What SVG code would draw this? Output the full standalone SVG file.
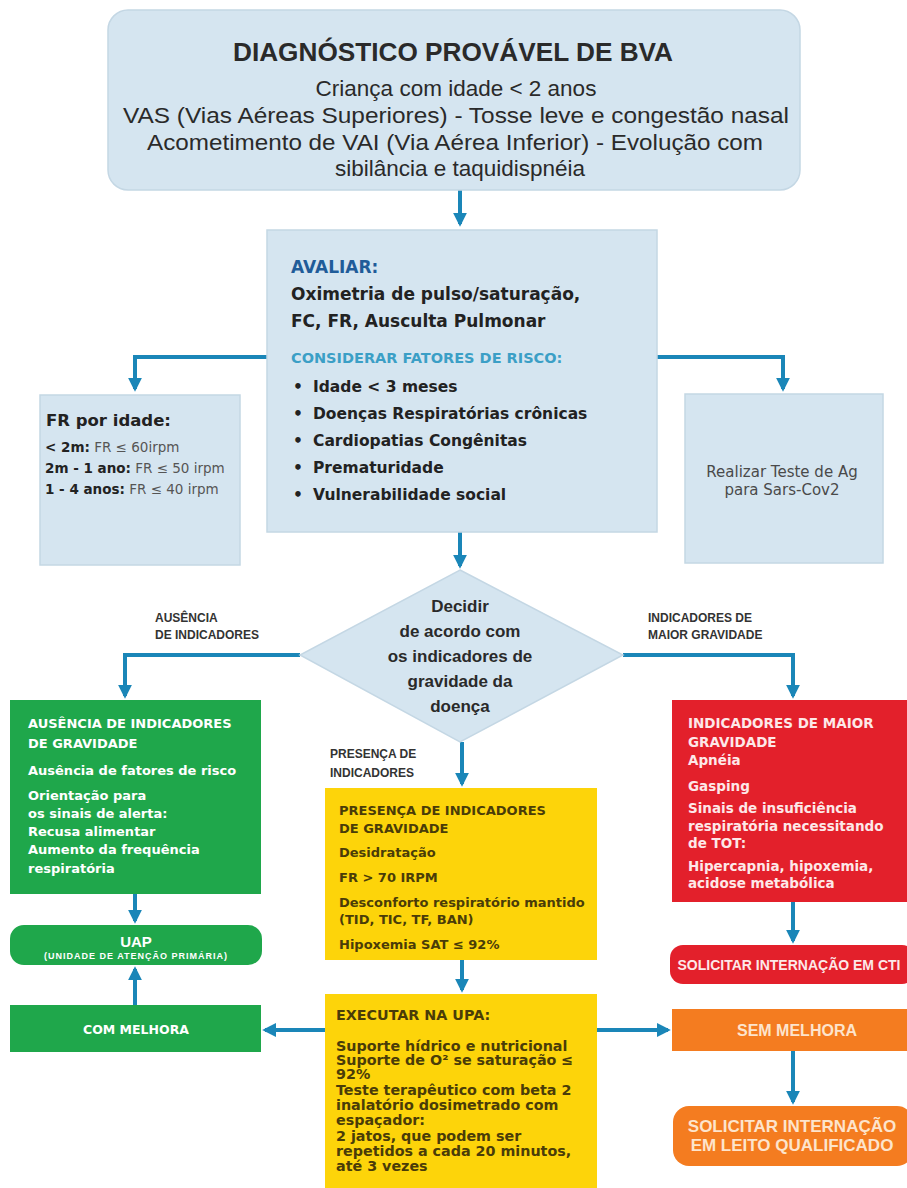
<svg xmlns="http://www.w3.org/2000/svg" width="907" height="1188" viewBox="0 0 907 1188">
<style>
.lb{fill:#d5e5f0;stroke:#c4d7e4;stroke-width:1.5}
.t{font-family:"Liberation Sans",Arial,sans-serif;fill:#2a2a2a}
.d{font-family:"DejaVu Sans",Verdana,sans-serif;fill:#222}
.b{font-weight:bold}
.w{fill:#fff;font-family:"DejaVu Sans",Verdana,sans-serif;font-weight:bold}
.wa{fill:#fff;font-family:"Liberation Sans",Arial,sans-serif;font-weight:bold}
.pk{fill:#fde8e8}
.or{fill:#fde4cc}
.y{fill:#4a3c08;font-family:"DejaVu Sans",Verdana,sans-serif;font-weight:bold}
.c{stroke:#1a86b8;stroke-width:4;fill:none}
.lab{font-family:"Liberation Sans",Arial,sans-serif;font-weight:bold;font-size:12px;fill:#333}
</style>
<defs>
<marker id="ah" viewBox="0 0 10 10" refX="8" refY="5" markerWidth="3.5" markerHeight="3.5" orient="auto" markerUnits="strokeWidth">
<path d="M0,0 L10,5 L0,10 z" fill="#1a86b8"/>
</marker>
</defs>
<rect width="907" height="1188" fill="#fff"/>

<g id="connectors">
<path class="c" d="M460,190 V224" marker-end="url(#ah)"/>
<path class="c" d="M267,357 H135 V389" marker-end="url(#ah)"/>
<path class="c" d="M657,357 H783 V389" marker-end="url(#ah)"/>
<path class="c" d="M460,532 V566" marker-end="url(#ah)"/>
<path class="c" d="M300,655 H125 V696" marker-end="url(#ah)"/>
<path class="c" d="M623,655 H793 V696" marker-end="url(#ah)"/>
<path class="c" d="M462,742 V784" marker-end="url(#ah)"/>
<path class="c" d="M135,894 V921" marker-end="url(#ah)"/>
<path class="c" d="M135,1005 V969" marker-end="url(#ah)"/>
<path class="c" d="M793,902 V941" marker-end="url(#ah)"/>
<path class="c" d="M462,960 V990" marker-end="url(#ah)"/>
<path class="c" d="M325,1030 H265" marker-end="url(#ah)"/>
<path class="c" d="M597,1030 H668" marker-end="url(#ah)"/>
<path class="c" d="M793,1050 V1102" marker-end="url(#ah)"/>
</g>

<g id="diagnostico">
<rect class="lb" x="108" y="10" width="692" height="180" rx="20"/>
<text class="t b" x="453" y="61" text-anchor="middle" font-size="25" textLength="440" lengthAdjust="spacingAndGlyphs">DIAGNÓSTICO PROVÁVEL DE BVA</text>
<text class="t" x="456" y="96" text-anchor="middle" font-size="22.5">Criança com idade &lt; 2 anos</text>
<text class="t" x="456" y="123" text-anchor="middle" font-size="22.5" textLength="666" lengthAdjust="spacingAndGlyphs">VAS (Vias Aéreas Superiores) - Tosse leve e congestão nasal</text>
<text class="t" x="455" y="150" text-anchor="middle" font-size="22.5" textLength="616" lengthAdjust="spacingAndGlyphs">Acometimento de VAI (Via Aérea Inferior) - Evolução com</text>
<text class="t" x="460" y="176" text-anchor="middle" font-size="22.5">sibilância e taquidispnéia</text>
</g>

<g id="avaliar">
<rect class="lb" x="267" y="230" width="390" height="302"/>
<text class="d b" x="291" y="273" font-size="17" style="fill:#1f5c99">AVALIAR:</text>
<text class="d b" x="291" y="300" font-size="17">Oximetria de pulso/saturação,</text>
<text class="d b" x="291" y="327" font-size="17">FC, FR, Ausculta Pulmonar</text>
<text class="d b" x="291" y="363" font-size="14.5" style="fill:#3b9fc6">CONSIDERAR FATORES DE RISCO:</text>
<g class="d b" font-size="15.5">
<text x="293" y="392">•</text><text x="313" y="392">Idade &lt; 3 meses</text>
<text x="293" y="419">•</text><text x="313" y="419">Doenças Respiratórias crônicas</text>
<text x="293" y="446">•</text><text x="313" y="446">Cardiopatias Congênitas</text>
<text x="293" y="473">•</text><text x="313" y="473">Prematuridade</text>
<text x="293" y="500">•</text><text x="313" y="500">Vulnerabilidade social</text>
</g>
</g>

<g id="fr-idade">
<rect class="lb" x="40" y="395" width="200" height="170"/>
<text class="d b" x="46" y="426" font-size="16.5">FR por idade:</text>
<text class="d" x="45" y="452" font-size="13.5"><tspan font-weight="bold">&lt; 2m:</tspan><tspan style="fill:#555"> FR ≤ 60irpm</tspan></text>
<text class="d" x="45" y="473" font-size="13.5"><tspan font-weight="bold">2m - 1 ano:</tspan><tspan style="fill:#555"> FR ≤ 50 irpm</tspan></text>
<text class="d" x="45" y="494" font-size="13.5"><tspan font-weight="bold">1 - 4 anos:</tspan><tspan style="fill:#555"> FR ≤ 40 irpm</tspan></text>
</g>

<g id="teste-ag">
<rect class="lb" x="685" y="394" width="198" height="169"/>
<text class="d" x="782" y="477" text-anchor="middle" font-size="15" style="fill:#4a4a4a">Realizar Teste de Ag</text>
<text class="d" x="782" y="495" text-anchor="middle" font-size="15" style="fill:#4a4a4a">para Sars-Cov2</text>
</g>

<g id="decidir">
<polygon points="460,570 623,655 460,742 300,655" fill="#d5e5f0" stroke="#c4d7e4" stroke-width="1.5"/>
<g class="t b" font-size="17" text-anchor="middle">
<text x="460" y="612">Decidir</text>
<text x="460" y="637">de acordo com</text>
<text x="460" y="662">os indicadores de</text>
<text x="460" y="687">gravidade da</text>
<text x="460" y="712">doença</text>
</g>
</g>

<g id="labels">
<text class="lab" x="155" y="622">AUSÊNCIA</text>
<text class="lab" x="155" y="639">DE INDICADORES</text>
<text class="lab" x="648" y="622">INDICADORES DE</text>
<text class="lab" x="648" y="639">MAIOR GRAVIDADE</text>
<text class="lab" x="330" y="758">PRESENÇA DE</text>
<text class="lab" x="330" y="777">INDICADORES</text>
</g>

<g id="ausencia">
<rect x="10" y="700" width="251" height="194" fill="#1fa74b"/>
<g class="w" font-size="13">
<text x="28" y="728">AUSÊNCIA DE INDICADORES</text>
<text x="28" y="748">DE GRAVIDADE</text>
<text x="28" y="775">Ausência de fatores de risco</text>
<text x="28" y="800">Orientação para</text>
<text x="28" y="818">os sinais de alerta:</text>
<text x="28" y="836">Recusa alimentar</text>
<text x="28" y="854">Aumento da frequência</text>
<text x="28" y="873">respiratória</text>
</g>
</g>

<g id="uap">
<rect x="10" y="925" width="252" height="40" rx="14" fill="#1fa74b"/>
<text class="wa" x="136" y="947" text-anchor="middle" font-size="15">UAP</text>
<text class="wa" x="136" y="959" text-anchor="middle" font-size="9" letter-spacing="1">(UNIDADE DE ATENÇÃO PRIMÁRIA)</text>
</g>

<g id="com-melhora">
<rect x="10" y="1005" width="251" height="47" fill="#1fa74b"/>
<text class="w" x="136" y="1034" text-anchor="middle" font-size="12.5">COM MELHORA</text>
</g>

<g id="presenca">
<rect x="325" y="788" width="272" height="172" fill="#fdd40a"/>
<g class="y" font-size="13">
<text x="339" y="815">PRESENÇA DE INDICADORES</text>
<text x="339" y="833">DE GRAVIDADE</text>
<text x="339" y="857">Desidratação</text>
<text x="339" y="882">FR &gt; 70 IRPM</text>
<text x="339" y="907">Desconforto respiratório mantido</text>
<text x="339" y="924">(TID, TIC, TF, BAN)</text>
<text x="339" y="949">Hipoxemia SAT ≤ 92%</text>
</g>
</g>

<g id="executar">
<rect x="325" y="994" width="272" height="194" fill="#fdd40a"/>
<g class="y" font-size="14.3">
<text x="336" y="1020">EXECUTAR NA UPA:</text>
<text x="336" y="1051">Suporte hídrico  e nutricional</text>
<text x="336" y="1065">Suporte de O² se saturação ≤</text>
<text x="336" y="1079">92%</text>
<text x="336" y="1095">Teste terapêutico com beta 2</text>
<text x="336" y="1110">inalatório dosimetrado com</text>
<text x="336" y="1125">espaçador:</text>
<text x="336" y="1141">2 jatos, que podem ser</text>
<text x="336" y="1156">repetidos a cada 20 minutos,</text>
<text x="336" y="1171">até 3 vezes</text>
</g>
</g>

<g id="maior-gravidade">
<rect x="672" y="700" width="235" height="202" fill="#e3202b"/>
<g class="w pk" font-size="13.5">
<text x="688" y="728">INDICADORES DE MAIOR</text>
<text x="688" y="747">GRAVIDADE</text>
<text x="688" y="765">Apnéia</text>
<text x="688" y="791">Gasping</text>
<text x="688" y="813">Sinais de insuficiência</text>
<text x="688" y="831">respiratória necessitando</text>
<text x="688" y="848">de TOT:</text>
<text x="688" y="871">Hipercapnia, hipoxemia,</text>
<text x="688" y="888">acidose metabólica</text>
</g>
</g>

<g id="cti">
<rect x="670" y="945" width="245" height="39" rx="13" fill="#e3202b"/>
<text class="wa pk" x="789" y="970" text-anchor="middle" font-size="14">SOLICITAR INTERNAÇÃO EM CTI</text>
</g>

<g id="sem-melhora">
<rect x="672" y="1009" width="240" height="42" fill="#f47c20"/>
<text class="wa or" x="797" y="1036" text-anchor="middle" font-size="16">SEM MELHORA</text>
</g>

<g id="leito">
<rect x="673" y="1106" width="240" height="60" rx="16" fill="#f47c20"/>
<text class="wa or" x="792" y="1132" text-anchor="middle" font-size="17">SOLICITAR INTERNAÇÃO</text>
<text class="wa or" x="792" y="1151" text-anchor="middle" font-size="17">EM LEITO QUALIFICADO</text>
</g>
</svg>
